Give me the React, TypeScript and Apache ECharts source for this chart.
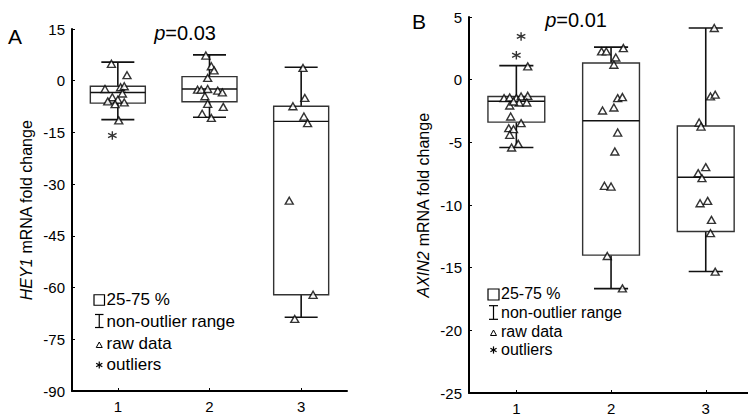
import React, { useEffect, useRef } from "react";
import * as echarts from "echarts";

// ---------- data ----------
const categories = ["1", "2", "3"];

// Panel A: HEY1 mRNA fold change
const hey1Low = [-11.3, -10.6, -68.6];
const hey1Q1 = [-6.5, -6.1, -62.1];
const hey1Median = [-3.4, -2.4, -11.8];
const hey1Q3 = [-1.6, 1.2, -7.4];
const hey1High = [5.4, 7.5, 3.9];
const hey1Group1 = [[0.93, 4.9], [1.1, 1.6], [0.86, -2.4], [1.03, -1.9], [1.07, -1.6], [1.05, -3.7], [0.94, -4.8], [1.0, -5.5], [0.89, -6.0], [0.97, -6.8], [1.07, -6.3], [1.01, -11.5]];
const hey1Group2 = [[1.96, 7.3], [2.02, 4.2], [2.05, 3.0], [1.98, 0.8], [1.87, -2.6], [1.91, -2.6], [1.98, -2.4], [2.09, -2.9], [2.14, -3.4], [1.95, -4.5], [1.98, -6.7], [2.15, -7.6], [1.92, -9.6], [2.02, -10.8]];
const hey1Group3 = [[3.02, 3.7], [3.04, -5.0], [2.91, -7.4], [3.03, -10.4], [3.07, -12.3], [2.87, -34.8], [3.13, -62.1], [2.93, -69.1]];
const hey1Outliers = [[0.94, -15.9]];
const hey1Ticks = [-90, 15, 15]; // min, max, interval

// Panel B: AXIN2 mRNA fold change
const axin2Low = [-5.41, -16.67, -15.3];
const axin2Q1 = [-3.39, -14.0, -12.12];
const axin2Median = [-1.72, -3.28, -7.78];
const axin2Q3 = [-1.34, 1.33, -3.7];
const axin2High = [1.12, 2.6, 4.12];
const axin2Group1 = [[1.12, 1.06], [0.87, -1.47], [0.93, -1.42], [1.0, -1.47], [1.05, -1.34], [1.12, -1.29], [0.93, -2.06], [1.03, -1.82], [1.11, -1.82], [0.97, -1.74], [0.94, -2.94], [1.05, -3.47], [0.92, -3.87], [0.97, -3.95], [0.93, -4.4], [1.02, -5.12], [0.95, -5.41]];
const axin2Group2 = [[1.9, 2.25], [1.95, 2.25], [2.13, 2.52], [2.05, 1.77], [2.03, 1.19], [2.07, -1.47], [2.12, -1.39], [2.03, -2.22], [1.91, -2.46], [2.07, -4.22], [2.04, -5.73], [1.93, -8.47], [2.0, -8.53], [1.96, -14.07], [2.12, -16.65]];
const axin2Group3 = [[3.09, 4.12], [3.05, -1.34], [3.1, -1.2], [2.93, -3.42], [2.95, -3.74], [3.0, -6.98], [2.92, -7.46], [2.96, -7.86], [2.94, -9.86], [3.02, -9.67], [3.06, -11.19], [3.05, -12.25], [3.1, -15.32]];
const axin2Outliers = [[1.05, 3.45], [1.0, 1.95]];
const axin2Ticks = [-25, 5, 5];

const pValues = ["0.03", "0.01"];
const legendLabels = ["25-75 %", "non-outlier range", "raw data", "outliers"];

// ---------- styles ----------
const FONT = "'Liberation Sans', Arial, sans-serif";
const ASTERISK = "path://M5,0L5,10M0.8,2.6L9.2,7.4M0.8,7.4L9.2,2.6";

function boxData(low: number[], q1: number[], med: number[], q3: number[], high: number[]) {
  return categories.map((_, i) => [i + 1, low[i], q1[i], med[i], q3[i], high[i]]);
}

function renderBox(params: any, api: any) {
  const x = api.value(0);
  const low = api.value(1), q1 = api.value(2), med = api.value(3), q3 = api.value(4), high = api.value(5);
  const half = 0.3;
  const capHalf = api.size([0.18, 0])[0];
  const tl = api.coord([x - half, q3]);
  const br = api.coord([x + half, q1]);
  const mL = api.coord([x - half, med]);
  const mR = api.coord([x + half, med]);
  const top = api.coord([x, high]);
  const q3c = api.coord([x, q3]);
  const bot = api.coord([x, low]);
  const q1c = api.coord([x, q1]);
  const ls = { stroke: "#111", lineWidth: 1.6 };
  return {
    type: "group",
    children: [
      { type: "line", shape: { x1: top[0], y1: top[1], x2: q3c[0], y2: q3c[1] }, style: ls },
      { type: "line", shape: { x1: bot[0], y1: bot[1], x2: q1c[0], y2: q1c[1] }, style: ls },
      { type: "line", shape: { x1: top[0] - capHalf, y1: top[1], x2: top[0] + capHalf, y2: top[1] }, style: ls },
      { type: "line", shape: { x1: bot[0] - capHalf, y1: bot[1], x2: bot[0] + capHalf, y2: bot[1] }, style: ls },
      { type: "rect", shape: { x: tl[0], y: tl[1], width: br[0] - tl[0], height: br[1] - tl[1] }, style: { fill: "#fff", stroke: "#333", lineWidth: 1.4 } },
      { type: "line", shape: { x1: mL[0], y1: mL[1], x2: mR[0], y2: mR[1] }, style: { stroke: "#111", lineWidth: 1.4 } },
    ],
  };
}

function scatter(data: number[][], gi: number, name: string) {
  return {
    type: "scatter", name, xAxisIndex: gi, yAxisIndex: gi, data, z: 5,
    symbol: "triangle", symbolSize: [8, 7],
    itemStyle: { color: "#fff", borderColor: "#000", borderWidth: 1.4 },
  };
}

function outliers(data: number[][], gi: number) {
  return {
    type: "scatter", xAxisIndex: gi, yAxisIndex: gi, data, z: 5,
    symbol: ASTERISK, symbolSize: 8.5,
    itemStyle: { color: "none", borderColor: "#000", borderWidth: 1.4 },
  };
}

function xAxis(gi: number, max: number) {
  return {
    gridIndex: gi, type: "value", min: 0.5, max,
    axisLine: { show: true, onZero: false, lineStyle: { color: "#000", width: 2 } },
    axisTick: { show: true, inside: true, length: 3, customValues: [1, 2, 3], lineStyle: { color: "#000" } },
    axisLabel: { customValues: [1, 2, 3], formatter: (v: number) => categories[Math.round(v) - 1] ?? "", fontSize: 15, color: "#000", fontFamily: FONT, margin: 8 },
    splitLine: { show: false },
  };
}

function yAxis(gi: number, ticks: number[], name: string) {
  return {
    gridIndex: gi, type: "value", min: ticks[0], max: ticks[1], interval: ticks[2],
    axisLine: { show: true, onZero: false, lineStyle: { color: "#000", width: 2 } },
    axisTick: { show: true, inside: true, length: 3, lineStyle: { color: "#000" } },
    axisLabel: { fontSize: 15, color: "#000", fontFamily: FONT, margin: 7 },
    splitLine: { show: false },
    name, nameLocation: "middle", nameGap: 38, nameRotate: 90,
    nameTextStyle: { fontSize: 16, color: "#000", fontFamily: FONT, rich: { i: { fontSize: 16, fontStyle: "italic", color: "#000", fontFamily: FONT } } },
  };
}

function legend(x: number, rows: number[], fontSize: number, sym: number) {
  const els: any[] = [];
  const ls = { stroke: "#000", lineWidth: 1.2, fill: "none" };
  const cx = x + sym / 2;
  // square
  els.push({ type: "rect", shape: { x, y: rows[0] - sym / 2 + 1, width: sym, height: sym }, style: ls });
  // whisker symbol
  const wy = rows[1];
  const hh = sym * 0.62;
  els.push({ type: "line", shape: { x1: x + 1, y1: wy - hh, x2: x + sym - 1, y2: wy - hh }, style: ls });
  els.push({ type: "line", shape: { x1: cx, y1: wy - hh, x2: cx, y2: wy + hh }, style: ls });
  els.push({ type: "line", shape: { x1: x + 1, y1: wy + hh, x2: x + sym - 1, y2: wy + hh }, style: ls });
  // triangle
  const ty = rows[2] + 2;
  els.push({ type: "polygon", shape: { points: [[cx, ty - 3], [cx + 3, ty + 2.5], [cx - 3, ty + 2.5]] }, style: { stroke: "#000", lineWidth: 1, fill: "#fff" } });
  // asterisk
  const ay = rows[3] + 1;
  const r = 3.6;
  els.push({ type: "line", shape: { x1: cx, y1: ay - r, x2: cx, y2: ay + r }, style: ls });
  els.push({ type: "line", shape: { x1: cx - r * 0.85, y1: ay - r * 0.5, x2: cx + r * 0.85, y2: ay + r * 0.5 }, style: ls });
  els.push({ type: "line", shape: { x1: cx - r * 0.85, y1: ay + r * 0.5, x2: cx + r * 0.85, y2: ay - r * 0.5 }, style: ls });
  legendLabels.forEach((t, i) => {
    els.push({ type: "text", x: x + sym + 2, y: rows[i], style: { text: t, fontSize, fontFamily: FONT, fill: "#000", verticalAlign: "middle", align: "left" } });
  });
  return els;
}

export default function App() {
  const ref = useRef<HTMLDivElement>(null);
  useEffect(() => {
    if (!ref.current) return;
    const chart = echarts.init(ref.current, null, { renderer: "svg" });
    const option: any = {
      animation: false,
      backgroundColor: "#fff",
      grid: [
        { left: 72, top: 29, width: 275, height: 362 },
        { left: 469, top: 17, width: 279, height: 376 },
      ],
      xAxis: [xAxis(0, 3.5), xAxis(1, 0.5 + 279 / 94.7)],
      yAxis: [
        yAxis(0, hey1Ticks, "{i|HEY1} mRNA fold change"),
        yAxis(1, axin2Ticks, "{i|AXIN2} mRNA fold change"),
      ],
      series: [
        { type: "custom", xAxisIndex: 0, yAxisIndex: 0, renderItem: renderBox, encode: { x: 0, y: [1, 2, 3, 4, 5] }, data: boxData(hey1Low, hey1Q1, hey1Median, hey1Q3, hey1High), z: 2 },
        { type: "custom", xAxisIndex: 1, yAxisIndex: 1, renderItem: renderBox, encode: { x: 0, y: [1, 2, 3, 4, 5] }, data: boxData(axin2Low, axin2Q1, axin2Median, axin2Q3, axin2High), z: 2 },
        scatter(hey1Group1, 0, "A1"), scatter(hey1Group2, 0, "A2"), scatter(hey1Group3, 0, "A3"),
        scatter(axin2Group1, 1, "B1"), scatter(axin2Group2, 1, "B2"), scatter(axin2Group3, 1, "B3"),
        outliers(hey1Outliers, 0), outliers(axin2Outliers, 1),
      ],
      graphic: [
        { type: "text", x: 8, y: 36, style: { text: "A", fontSize: 21, fontFamily: FONT, fill: "#000", verticalAlign: "middle" } },
        { type: "text", x: 412, y: 21, style: { text: "B", fontSize: 21, fontFamily: FONT, fill: "#000", verticalAlign: "middle" } },
        { type: "text", x: 185, y: 33, style: { text: "{i|p}=" + pValues[0], fontSize: 20, fontFamily: FONT, fill: "#000", align: "center", verticalAlign: "middle", rich: { i: { fontSize: 20, fontStyle: "italic", fontFamily: FONT, fill: "#000" } } } },
        { type: "text", x: 576, y: 20, style: { text: "{i|p}=" + pValues[1], fontSize: 20, fontFamily: FONT, fill: "#000", align: "center", verticalAlign: "middle", rich: { i: { fontSize: 20, fontStyle: "italic", fontFamily: FONT, fill: "#000" } } } },
        ...legend(94, [299, 321, 343, 364], 17, 10.5),
        ...legend(488, [293.5, 312.5, 331, 349], 16, 11),
      ],
    };
    chart.setOption(option);
    return () => chart.dispose();
  }, []);
  return <div ref={ref} style={{ position: "absolute", left: 0, top: 0, width: 748, height: 416 }} />;
}
